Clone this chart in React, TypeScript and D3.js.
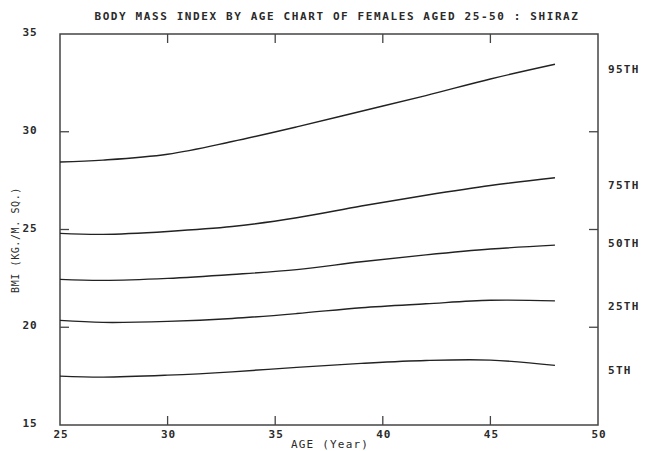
import React from 'react';
import * as d3 from 'd3';

// ages sampled along the curves (years)
const ages = [25, 27, 30, 33, 36, 39, 42, 45, 48];

// BMI percentile values
const p95 = [28.45, 28.55, 28.85, 29.5, 30.25, 31.05, 31.85, 32.7, 33.45];
const p75 = [24.8, 24.75, 24.9, 25.15, 25.6, 26.2, 26.75, 27.25, 27.65];
const p50 = [22.45, 22.4, 22.5, 22.7, 22.95, 23.35, 23.7, 24.0, 24.2];
const p25 = [20.35, 20.25, 20.3, 20.45, 20.7, 21.0, 21.2, 21.38, 21.35];
const p5 = [17.5, 17.45, 17.55, 17.72, 17.95, 18.15, 18.3, 18.32, 18.05];

const seriesNames = ['95TH', '75TH', '50TH', '25TH', '5TH'];
const seriesValues = [p95, p75, p50, p25, p5];
// label placement in BMI units (labels sit a little off the curve ends)
const labelBmi = [33.2, 27.3, 24.3, 21.1, 17.8];

const xTicks = [25, 30, 35, 40, 45, 50];
const yTicks = [15, 20, 25, 30, 35];
const innerYTicks = [20, 25, 30];
const innerXTicks = [30, 35, 40, 45];

const title = 'BODY MASS INDEX BY AGE CHART OF FEMALES AGED 25-50 : SHIRAZ';
const xTitle = 'AGE (Year)';
const yTitle = 'BMI (KG./M. SQ.)';

const W = 650;
const H = 451;
const margin = { top: 34, right: 52, bottom: 26, left: 60 };

const font = "'DejaVu Sans Mono', monospace";
const ink = '#2a2a2a';

export default function App() {
  const x = d3.scaleLinear().domain([25, 50]).range([margin.left, W - margin.right]);
  const y = d3.scaleLinear().domain([15, 35]).range([H - margin.bottom, margin.top]);

  const line = d3
    .line<number>()
    .x((_, i) => x(ages[i]))
    .y((d) => y(d))
    .curve(d3.curveCatmullRom.alpha(0.5));

  const x0 = x(25);
  const x1 = x(50);
  const y0 = y(15);
  const y1 = y(35);
  const tickLen = 9;

  return (
    <svg
      width={W}
      height={H}
      style={{ position: 'absolute', left: 0, top: 0, background: '#fff' }}
    >
      <text
        x={(x0 + x1) / 2 + 8}
        y={20}
        textAnchor="middle"
        fontFamily={font}
        fontSize={11}
        fontWeight="bold"
        letterSpacing={1.6}
        fill={ink}
      >
        {title}
      </text>

      {/* frame */}
      <rect x={x0} y={y1} width={x1 - x0} height={y0 - y1} fill="none" stroke="#444" strokeWidth={1.5} />

      {/* inner ticks */}
      {innerXTicks.map((t) => (
        <g key={'xt' + t} stroke="#444" strokeWidth={1.3}>
          <line x1={x(t)} x2={x(t)} y1={y1} y2={y1 + tickLen} />
          <line x1={x(t)} x2={x(t)} y1={y0} y2={y0 - tickLen} />
        </g>
      ))}
      {innerYTicks.map((t) => (
        <g key={'yt' + t} stroke="#444" strokeWidth={1.3}>
          <line x1={x0} x2={x0 + tickLen} y1={y(t)} y2={y(t)} />
          <line x1={x1} x2={x1 - tickLen} y1={y(t)} y2={y(t)} />
        </g>
      ))}

      {/* tick labels */}
      {yTicks.map((t) => (
        <text key={'yl' + t} x={30} y={y(t) + 2} textAnchor="middle" fontFamily={font} fontSize={11} fontWeight="bold" letterSpacing={1} fill={ink}>
          {t}
        </text>
      ))}
      {xTicks.map((t) => (
        <text key={'xl' + t} x={x(t) + 1} y={H - 13} textAnchor="middle" fontFamily={font} fontSize={11} fontWeight="bold" letterSpacing={1} fill={ink}>
          {t}
        </text>
      ))}

      <text x={(x0 + x1) / 2 + 1} y={H - 3} textAnchor="middle" fontFamily={font} fontSize={11} letterSpacing={1.2} fill={ink}>
        {xTitle}
      </text>
      <text
        transform={`translate(19, 240) rotate(-90)`}
        textAnchor="middle"
        fontFamily={font}
        fontSize={10}
        letterSpacing={0.6}
        fill={ink}
      >
        {yTitle}
      </text>

      {/* percentile curves */}
      {seriesValues.map((vals, i) => (
        <path key={seriesNames[i]} d={line(vals) ?? ''} fill="none" stroke="#222" strokeWidth={1.4} />
      ))}

      {seriesNames.map((name, i) => (
        <text
          key={'lab' + name}
          x={x1 + 10}
          y={y(labelBmi[i]) + 4}
          fontFamily={font}
          fontSize={11}
          fontWeight="bold"
          letterSpacing={1.3}
          fill={ink}
        >
          {name}
        </text>
      ))}
    </svg>
  );
}
